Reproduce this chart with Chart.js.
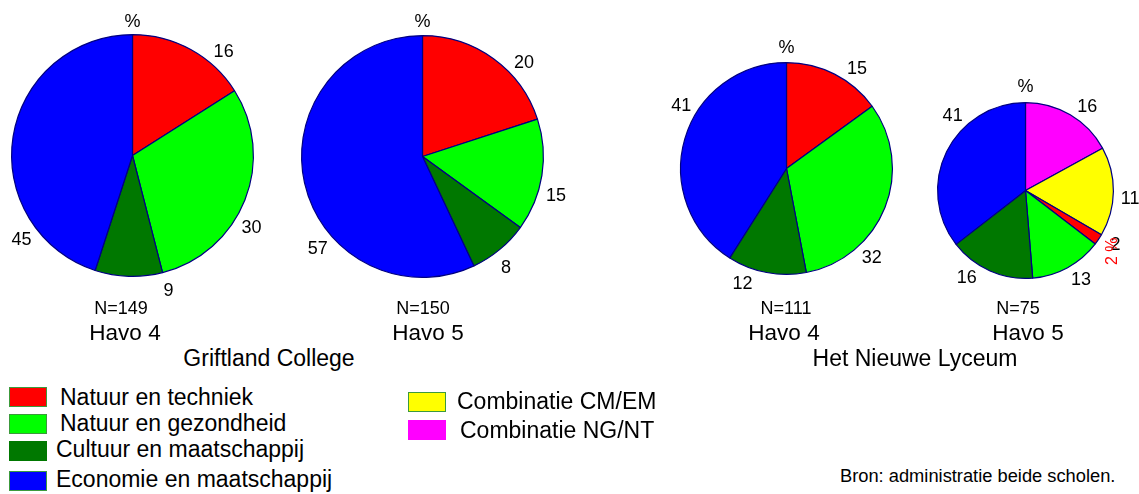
<!DOCTYPE html>
<html>
<head>
<meta charset="utf-8">
<script src="https://cdn.jsdelivr.net/npm/chart.js@4"></script>
<style>
  html, body { margin: 0; padding: 0; background: #fff; }
  body { width: 1139px; height: 494px; position: relative; overflow: hidden;
         font-family: "Liberation Sans", Arial, sans-serif; color: #000; }
  canvas { position: absolute; }
  .t { position: absolute; white-space: nowrap; line-height: 1; }
  .c { transform: translateX(-50%); }
  .box { position: absolute; width: 36px; height: 18px; box-sizing: content-box; }
</style>
</head>
<body>
<canvas id="pie1"></canvas>
<canvas id="pie2"></canvas>
<canvas id="pie3"></canvas>
<canvas id="pie4"></canvas>

<div class="t c" style="left:121px;top:299px;font-size:18px">N=149</div>
<div class="t c" style="left:125px;top:322px;font-size:22.5px">Havo 4</div>
<div class="t c" style="left:423px;top:299px;font-size:18px">N=150</div>
<div class="t c" style="left:428px;top:322px;font-size:22.5px">Havo 5</div>
<div class="t c" style="left:269px;top:347px;font-size:23px">Griftland College</div>
<div class="t c" style="left:786px;top:299px;font-size:18px">N=111</div>
<div class="t c" style="left:784px;top:322px;font-size:22.5px">Havo 4</div>
<div class="t c" style="left:1018px;top:299px;font-size:18px">N=75</div>
<div class="t c" style="left:1028px;top:322px;font-size:22.5px">Havo 5</div>
<div class="t c" style="left:915px;top:347px;font-size:23px">Het Nieuwe Lyceum</div>
<div class="t" style="left:840px;top:467px;font-size:18.3px">Bron: administratie beide scholen.</div>

<div id="legend"></div>

<script>
// categories (subject profiles)
const categories = ['Natuur en techniek', 'Natuur en gezondheid', 'Cultuur en maatschappij',
                    'Economie en maatschappij', 'Combinatie CM/EM', 'Combinatie NG/NT'];

// percentages per school / year (order: NT, NG, CM, EM)
const griftlandHavo4 = [16, 30, 9, 45];
const griftlandHavo5 = [20, 15, 8, 57];
const lyceumHavo4 = [15, 32, 12, 41];
// Lyceum havo 5, clockwise from top: NG/NT, CM/EM, NT, NG, CM, EM
const lyceumHavo5Labels = [16, 11, 2, 13, 16, 41];   // printed numbers
const lyceumHavo5Slices = [17, 16.4, 2, 13.3, 15.8, 35.5]; // slice sizes as drawn

const colNT = '#ff0000', colNG = '#00ff00', colCM = '#007800', colEM = '#0000ff',
      colCMEM = '#ffff00', colNGNT = '#ff00ff';

const sliceLabels = {
  id: 'sliceLabels',
  afterDatasetsDraw(chart, args, opts) {
    let ctx = chart.ctx;
    let arcs = chart.getDatasetMeta(0).data;
    if (!arcs.length) return;
    let cx = arcs[0].x, cy = arcs[0].y, r = arcs[0].outerRadius;
    ctx.save();
    ctx.font = '18px "Liberation Sans", Arial, sans-serif';
    ctx.fillStyle = '#000';
    ctx.textAlign = 'center';
    ctx.textBaseline = 'middle';
    opts.texts.forEach((txt, i) => {
      let a = opts.angles[i] * Math.PI / 180;
      let d = r + opts.gap;
      ctx.fillText(String(txt), cx + d * Math.sin(a), cy - d * Math.cos(a) + 1);
    });
    ctx.fillText('%', cx, cy - r - opts.pctGap);
    if (opts.note) {
      let n = opts.note;
      let a = n.angle * Math.PI / 180;
      let d = r + opts.gap + 1;
      ctx.translate(cx + d * Math.sin(a), cy - d * Math.cos(a));
      ctx.rotate(-Math.PI / 2);
      ctx.fillStyle = n.color;
      ctx.font = '16px "Liberation Sans", Arial, sans-serif';
      ctx.fillText(n.text, 0, 0);
    }
    ctx.restore();
  }
};

function makePie(id, cx, cy, r, values, colors, labelOpts) {
  let pad = 50;
  let size = 2 * r + 1 + 2 * pad;
  let canvas = document.getElementById(id);
  canvas.width = size;
  canvas.height = size;
  canvas.style.left = (cx - size / 2) + 'px';
  canvas.style.top = (cy - size / 2) + 'px';
  return new Chart(canvas, {
    type: 'pie',
    data: {
      labels: values.map((v, i) => i),
      datasets: [{
        data: values,
        backgroundColor: colors,
        borderColor: '#000080',
        borderWidth: 1.2,
        hoverOffset: 0
      }]
    },
    options: {
      responsive: false,
      animation: false,
      events: [],
      devicePixelRatio: 1,
      layout: { padding: pad },
      plugins: {
        legend: { display: false },
        tooltip: { enabled: false },
        sliceLabels: labelOpts
      }
    },
    plugins: [sliceLabels]
  });
}

const fourCols = [colNT, colNG, colCM, colEM];

makePie('pie1', 132, 155, 121, griftlandHavo4, fourCols,
  { texts: griftlandHavo4, angles: [41, 121, 165, 233], gap: 18, pctGap: 13 });
makePie('pie2', 422, 156, 121, griftlandHavo5, fourCols,
  { texts: griftlandHavo5, angles: [47, 106, 143, 229], gap: 18, pctGap: 14 });
makePie('pie3', 786, 168, 106, lyceumHavo4, fourCols,
  { texts: lyceumHavo4, angles: [35, 136, 201, 301], gap: 17, pctGap: 15 });
makePie('pie4', 1025, 190, 88, lyceumHavo5Slices,
  [colNGNT, colCMEM, colNT, colNG, colCM, colEM],
  { texts: lyceumHavo5Labels, angles: [36, 94, 121, 148, 214, 316], gap: 17, pctGap: 16,
    note: { text: '2 %', angle: 125, color: '#ff0000' } });

// legend
const legendCols = [colNT, colNG, colCM, colEM, colCMEM, colNGNT];
const legendPos = [
  { bx: 9, by: 387, tx: 60, ty: 386 },
  { bx: 9, by: 414, tx: 60, ty: 412 },
  { bx: 9, by: 441, tx: 56, ty: 438 },
  { bx: 9, by: 471, tx: 56, ty: 468 },
  { bx: 408, by: 392, tx: 457, ty: 390 },
  { bx: 408, by: 420, tx: 460, ty: 419 }
];
let legend = document.getElementById('legend');
categories.forEach((name, i) => {
  let p = legendPos[i];
  let b = document.createElement('div');
  b.className = 'box';
  b.style.left = p.bx + 'px';
  b.style.top = p.by + 'px';
  b.style.background = legendCols[i];
  b.style.border = '1px solid ' + (i === 5 || i === 2 ? legendCols[i] : '#3c9a3c');
  legend.appendChild(b);
  let t = document.createElement('div');
  t.className = 't';
  t.style.left = p.tx + 'px';
  t.style.top = p.ty + 'px';
  t.style.fontSize = '23px';
  t.textContent = name;
  legend.appendChild(t);
});
</script>
</body>
</html>
